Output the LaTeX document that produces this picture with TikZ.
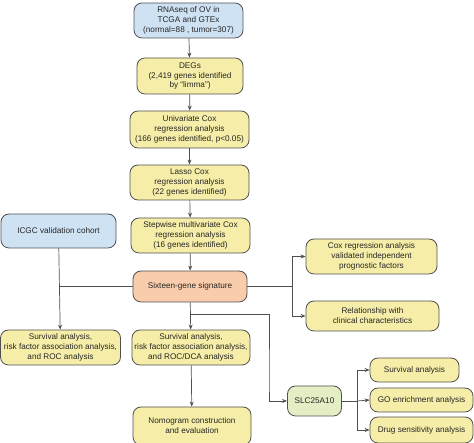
\documentclass[tikz,border=0pt]{standalone}
\usepackage{fontspec}
\setmainfont{Liberation Sans}
\usetikzlibrary{arrows.meta}
\definecolor{boxblue}{RGB}{207,226,243}
\definecolor{boxyellow}{RGB}{246,238,168}
\definecolor{boxorange}{RGB}{249,205,172}
\definecolor{boxgreen}{RGB}{228,238,196}
\definecolor{edgegray}{RGB}{80,80,80}
\begin{document}
\begin{tikzpicture}[x=1pt, y=1pt, font=\fontsize{8.2}{9.9}\selectfont, >={Stealth[length=5pt,width=4pt]},
	box/.style = {shape=rectangle, rounded corners=8pt, draw=edgegray, line width=0.8pt, align=center, inner sep=0pt, fill=boxyellow, text=black!85},
	start/.style = {box, fill=boxblue},
	sig/.style = {box, fill=boxorange},
	gene/.style = {box, fill=boxgreen},
	link/.style = {draw=edgegray, line width=0.7pt}]
	\useasboundingbox (0,0) rectangle (474,443);
	% main column
	\node[start, minimum width=109pt, minimum height=35pt] (rna) at (188.5,422.5) {RNAseq of OV in\\TCGA and GTEx\\(normal=88 , tumor=307)};
	\node[box, minimum width=106pt, minimum height=36pt] (degs) at (190,367) {DEGs\\(2,419 genes identified\\by ``limma'')};
	\node[box, minimum width=119pt, minimum height=37pt] (unicox) at (189.5,313.5) {Univariate Cox\\regression analysis\\(166 genes identified, p<0.05)};
	\node[box, minimum width=119pt, minimum height=35pt] (lasso) at (189.5,260.5) {Lasso Cox\\regression analysis\\(22 genes identified)};
	\node[box, minimum width=119pt, minimum height=35pt] (stepcox) at (190.5,207.5) {Stepwise multivariate Cox\\regression analysis\\(16 genes identified)};
	\node[sig, minimum width=114pt, minimum height=31pt] (signature) at (190,156.5) {Sixteen-gene signature};
	\node[box, minimum width=118pt, minimum height=35pt] (survmid) at (191,95.5) {Survival analysis,\\risk factor association analysis,\\and ROC/DCA analysis};
	\node[box, minimum width=118pt, minimum height=38pt] (nomo) at (192,17) {Nomogram construction\\and evaluation};
	% validation cohort
	\node[start, minimum width=115pt, minimum height=34pt] (icgc) at (58.5,212) {ICGC validation cohort};
	\node[box, minimum width=120pt, minimum height=35pt] (survleft) at (60.5,95.5) {Survival analysis,\\risk factor association analysis,\\and ROC analysis};
	% clinical side
	\node[box, minimum width=131pt, minimum height=35pt] (coxclin) at (371.5,186.5) {Cox regression analysis\\validated independent\\prognostic factors};
	\node[box, minimum width=133pt, minimum height=30pt] (clinical) at (372.5,127) {Relationship with\\clinical characteristics};
	% SLC25A10
	\node[gene, minimum width=54pt, minimum height=30pt] (slc) at (314.5,42) {SLC25A10};
	\node[box, minimum width=89pt, minimum height=24pt] (survright) at (414.5,73) {Survival analysis};
	\node[box, minimum width=103pt, minimum height=24pt] (goenrich) at (421.5,43) {GO enrichment analysis};
	\node[box, minimum width=103pt, minimum height=26pt] (drug) at (421.5,13) {Drug sensitivity analysis};
	% junctions
	\coordinate (split) at (191,129);
	\coordinate (clinbus) at (292,156.5);
	\coordinate (slcbus) at (357,42);
	% arrows
	\draw[link, ->] (rna) -- (degs);
	\draw[link, ->] (degs) -- (unicox);
	\draw[link, ->] (unicox) -- (lasso);
	\draw[link, ->] (lasso) -- (stepcox);
	\draw[link, ->] (stepcox) -- (signature);
	\draw[link, ->] (signature) -- (survmid);
	\draw[link, ->] (survmid) -- (nomo);
	\draw[link, ->] (icgc) -- (survleft);
	\draw[link] (signature.west) -- (icgc.south |- signature.west);
	\draw[link] (signature.east) -- (clinbus);
	\draw[link, ->] (clinbus) |- (coxclin.west);
	\draw[link, ->] (clinbus) |- (clinical.west);
	\draw[link, ->] (split) -| (269,60) |- (slc.west);
	\draw[link] (slc.east) -- (slcbus);
	\draw[link, ->] (slcbus) |- (survright.west);
	\draw[link, ->] (slcbus) -- (goenrich.west);
	\draw[link, ->] (slcbus) |- (drug.west);
\end{tikzpicture}
\end{document}
